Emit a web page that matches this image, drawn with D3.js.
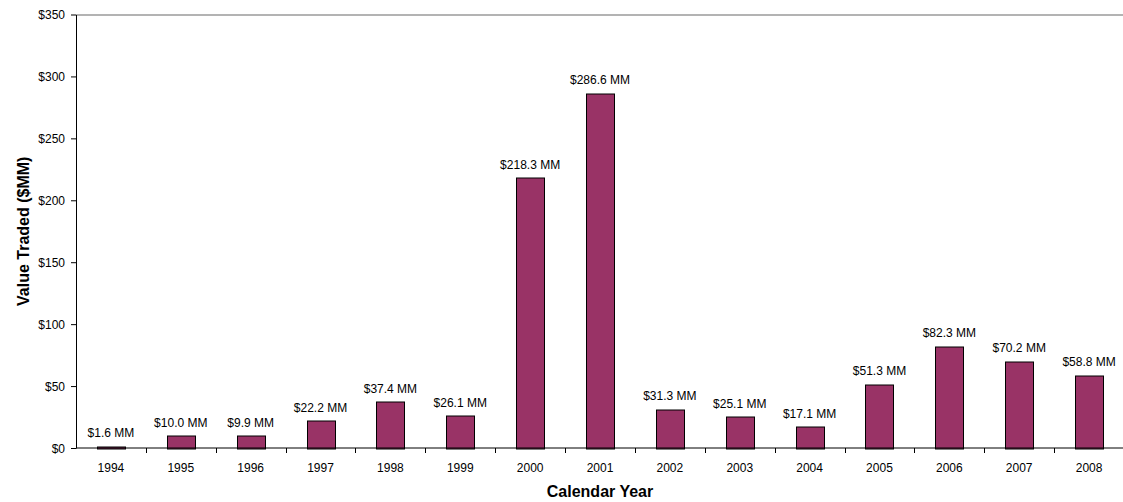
<!DOCTYPE html>
<html>
<head>
<meta charset="utf-8">
<script src="https://cdn.jsdelivr.net/npm/d3@7"></script>
<style>
  body { margin: 0; background: #fff; overflow: hidden; }
  svg { display: block; font-family: "Liberation Sans", Arial, sans-serif; }
</style>
</head>
<body>
<div id="chart"></div>
<script>
var years = ["1994", "1995", "1996", "1997", "1998", "1999", "2000", "2001",
             "2002", "2003", "2004", "2005", "2006", "2007", "2008"];
var valueTraded = [1.6, 10.0, 9.9, 22.2, 37.4, 26.1, 218.3, 286.6,
                   31.3, 25.1, 17.1, 51.3, 82.3, 70.2, 58.8];
var yTicks = [0, 50, 100, 150, 200, 250, 300, 350];

var W = 1123, H = 502;
var margin = {top: 14.5, right: -1, bottom: 54, left: 76};
var width = W - margin.left - margin.right,
    height = H - margin.top - margin.bottom;

var svg = d3.select("#chart").append("svg")
    .attr("width", W)
    .attr("height", H);

var g = svg.append("g")
    .attr("transform", "translate(" + margin.left + "," + margin.top + ")");

var x = d3.scaleBand()
    .domain(years)
    .range([0, width])
    .paddingInner(0.6)
    .paddingOuter(0.3);

var y = d3.scaleLinear()
    .domain([0, 350])
    .range([height, 0]);

// top border of plot area
g.append("line")
    .attr("x1", 0).attr("x2", width + 10)
    .attr("y1", 0.5).attr("y2", 0.5)
    .attr("stroke", "#9a9a9a")
    .attr("stroke-width", 1.5);

// bars
g.selectAll(".bar")
    .data(valueTraded)
  .enter().append("rect")
    .attr("class", "bar")
    .attr("x", function(d, i) { return Math.round(x(years[i])) + 0.5; })
    .attr("y", function(d) { return Math.round(y(d)) + 0.5; })
    .attr("width", Math.round(x.bandwidth()))
    .attr("height", function(d) { return Math.round(height) - Math.round(y(d)); })
    .attr("fill", "#993366")
    .attr("stroke", "#000")
    .attr("stroke-width", 1);

// value labels
g.selectAll(".lbl")
    .data(valueTraded)
  .enter().append("text")
    .attr("class", "lbl")
    .attr("x", function(d, i) { return x(years[i]) + x.bandwidth() / 2; })
    .attr("y", function(d) { return y(d) - 9; })
    .attr("text-anchor", "middle")
    .attr("font-size", "12px")
    .attr("fill", "#000")
    .text(function(d) { return "$" + d.toFixed(1) + " MM"; });

// y axis
var yAxis = g.append("g")
    .call(d3.axisLeft(y).tickValues(yTicks).tickSize(5).tickSizeOuter(0)
      .tickFormat(function(d) { return "$" + d; }));
yAxis.select(".domain").attr("stroke", "#000");
yAxis.selectAll(".tick line").attr("stroke", "#000");
yAxis.selectAll("text")
    .attr("font-family", "Liberation Sans, Arial, sans-serif")
    .attr("font-size", "12px")
    .attr("fill", "#000")
    .attr("x", -11)
    .attr("dy", "0.36em");

// x axis: ticks sit on category boundaries
var xAxisG = g.append("g")
    .attr("transform", "translate(0," + height + ")");
xAxisG.append("line")
    .attr("x1", 0).attr("x2", width)
    .attr("y1", 0).attr("y2", 0)
    .attr("stroke", "#000");
var step = x.step();
xAxisG.selectAll(".xt")
    .data(years.slice(1))
  .enter().append("line")
    .attr("class", "xt")
    .attr("x1", function(d) { return Math.round(x(d) - (step - x.bandwidth()) / 2) + 0.5; })
    .attr("x2", function(d) { return Math.round(x(d) - (step - x.bandwidth()) / 2) + 0.5; })
    .attr("y1", 0).attr("y2", 5)
    .attr("stroke", "#000");
xAxisG.selectAll(".xl")
    .data(years)
  .enter().append("text")
    .attr("class", "xl")
    .attr("x", function(d) { return x(d) + x.bandwidth() / 2; })
    .attr("y", 24)
    .attr("text-anchor", "middle")
    .attr("font-size", "12px")
    .attr("fill", "#000")
    .text(function(d) { return d; });

// axis titles
svg.append("text")
    .attr("x", 600)
    .attr("y", 497)
    .attr("text-anchor", "middle")
    .attr("font-size", "16px")
    .attr("font-weight", "bold")
    .text("Calendar Year");

svg.append("text")
    .attr("transform", "translate(29," + (margin.top + height / 2) + ") rotate(-90)")
    .attr("text-anchor", "middle")
    .attr("font-size", "16px")
    .attr("font-weight", "bold")
    .text("Value Traded ($MM)");
</script>
</body>
</html>
